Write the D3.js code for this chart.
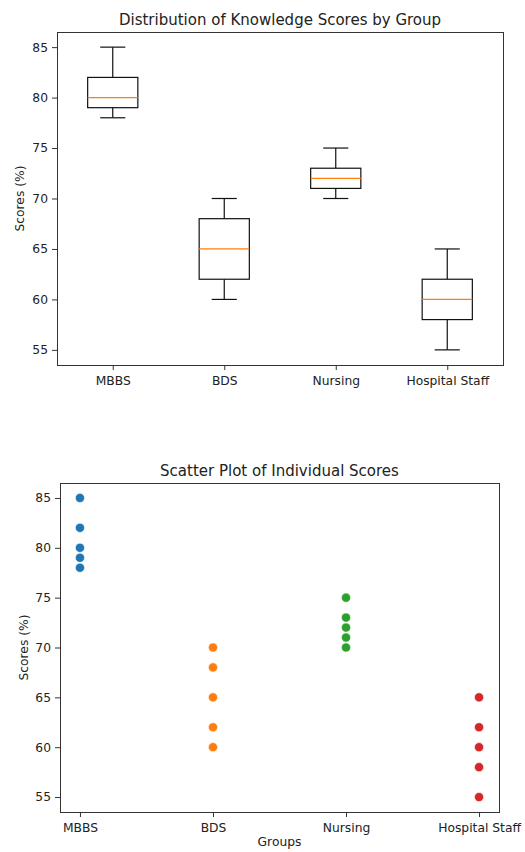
<!DOCTYPE html>
<html>
<head>
<meta charset="utf-8">
<title>Knowledge Scores by Group</title>
<style>
    body { margin: 0; background: #fff; }
    svg text { font-family: "DejaVu Sans", sans-serif; fill: #222; }
    .frame { fill: none; stroke: #333; stroke-width: 1; }
    .box line, .box rect { stroke: #111; stroke-width: 1.2; fill: none; }
    .box .median { stroke: #ff7f0e; }
    .tick line { stroke: #333; }
</style>
</head>
<body>
<svg width="525" height="852"></svg>
<script src="https://d3js.org/d3.v7.min.js"></script>
<script>

    // data
    var groups = ["MBBS", "BDS", "Nursing", "Hospital Staff"];
    var mbbs = [78, 79, 80, 82, 85];
    var bds = [60, 62, 65, 68, 70];
    var nursing = [70, 71, 72, 73, 75];
    var staff = [55, 58, 60, 62, 65];
    var yTicks = [55, 60, 65, 70, 75, 80, 85];
    var colors = ["#1f77b4", "#ff7f0e", "#2ca02c", "#d62728"];

    var scores = [mbbs, bds, nursing, staff];

    var fs = 12.3, titleFs = 15;

    var svg = d3.select("svg");

    function frame(g, w, h) {
        g.append("rect").attr("class", "frame")
            .attr("x", 0.5).attr("y", 0.5)
            .attr("width", w).attr("height", h);
    }

    function yAxis(g, y, ylabX, h) {
        var ax = g.append("g")
            .call(d3.axisLeft(y).tickValues(yTicks).tickSize(5).tickPadding(4))
            .attr("font-size", fs)
            .attr("font-family", null);
        ax.select(".domain").remove();
        g.append("text")
            .attr("transform", "translate(" + ylabX + "," + (h / 2) + ") rotate(-90)")
            .attr("text-anchor", "middle")
            .attr("font-size", fs)
            .text("Scores (%)");
    }

    function xAxis(g, x, vals, fmt, h) {
        var ax = g.append("g").attr("transform", "translate(0," + h + ")")
            .call(d3.axisBottom(x).tickValues(vals).tickFormat(fmt).tickSize(5).tickPadding(6))
            .attr("font-size", fs).attr("font-family", null);
        ax.select(".domain").remove();
    }

    // ---- top: box plot ----
    var m1 = {left: 57, top: 32, w: 446, h: 333};
    var g1 = svg.append("g").attr("transform", "translate(" + m1.left + "," + m1.top + ")");

    var x1 = d3.scaleLinear().domain([0.5, 4.5]).range([0, m1.w]);
    var y1 = d3.scaleLinear().domain([53.5, 86.5]).range([m1.h, 0]);

    var boxW = 0.45;
    scores.forEach(function(vals, i) {
        var s = vals.slice().sort(d3.ascending);
        var q1 = d3.quantile(s, 0.25), med = d3.quantile(s, 0.5), q3 = d3.quantile(s, 0.75);
        var lo = d3.min(s), hi = d3.max(s);
        var pos = i + 1;
        var b = g1.append("g").attr("class", "box");
        b.append("line").attr("x1", x1(pos)).attr("x2", x1(pos)).attr("y1", y1(q3)).attr("y2", y1(hi));
        b.append("line").attr("x1", x1(pos)).attr("x2", x1(pos)).attr("y1", y1(q1)).attr("y2", y1(lo));
        b.append("line").attr("x1", x1(pos - boxW / 4)).attr("x2", x1(pos + boxW / 4)).attr("y1", y1(hi)).attr("y2", y1(hi));
        b.append("line").attr("x1", x1(pos - boxW / 4)).attr("x2", x1(pos + boxW / 4)).attr("y1", y1(lo)).attr("y2", y1(lo));
        b.append("rect")
            .attr("x", x1(pos - boxW / 2)).attr("y", y1(q3))
            .attr("width", x1(pos + boxW / 2) - x1(pos - boxW / 2))
            .attr("height", y1(q1) - y1(q3));
        b.append("line").attr("class", "median")
            .attr("x1", x1(pos - boxW / 2)).attr("x2", x1(pos + boxW / 2))
            .attr("y1", y1(med)).attr("y2", y1(med));
    });

    frame(g1, m1.w, m1.h);
    yAxis(g1, y1, -33, m1.h);
    xAxis(g1, x1, [1, 2, 3, 4], function(d) { return groups[d - 1]; }, m1.h);

    g1.append("text")
        .attr("x", m1.w / 2).attr("y", -7)
        .attr("text-anchor", "middle").attr("font-size", titleFs)
        .text("Distribution of Knowledge Scores by Group");

    // ---- bottom: scatter ----
    var m2 = {left: 60, top: 483, w: 439, h: 329};
    var g2 = svg.append("g").attr("transform", "translate(" + m2.left + "," + m2.top + ")");

    var x2 = d3.scaleLinear().domain([-0.15, 3.15]).range([0, m2.w]);
    var y2 = d3.scaleLinear().domain([53.5, 86.5]).range([m2.h, 0]);

    var pts = [];
    scores.forEach(function(vals, i) {
        vals.forEach(function(v) { pts.push({g: i, v: v}); });
    });

    g2.append("g").selectAll("circle")
        .data(pts).enter().append("circle")
        .attr("cx", function(d) { return x2(d.g); })
        .attr("cy", function(d) { return y2(d.v); })
        .attr("r", 4.6)
        .attr("fill", function(d) { return colors[d.g]; })
        .attr("stroke", "#fff").attr("stroke-width", 0.6);

    frame(g2, m2.w, m2.h);
    yAxis(g2, y2, -32, m2.h);
    xAxis(g2, x2, [0, 1, 2, 3], function(d) { return groups[d]; }, m2.h);

    g2.append("text")
        .attr("x", m2.w / 2).attr("y", -7)
        .attr("text-anchor", "middle").attr("font-size", titleFs)
        .text("Scatter Plot of Individual Scores");

    g2.append("text")
        .attr("x", m2.w / 2).attr("y", m2.h + 34)
        .attr("text-anchor", "middle").attr("font-size", fs)
        .text("Groups");

</script>
</body>
</html>
